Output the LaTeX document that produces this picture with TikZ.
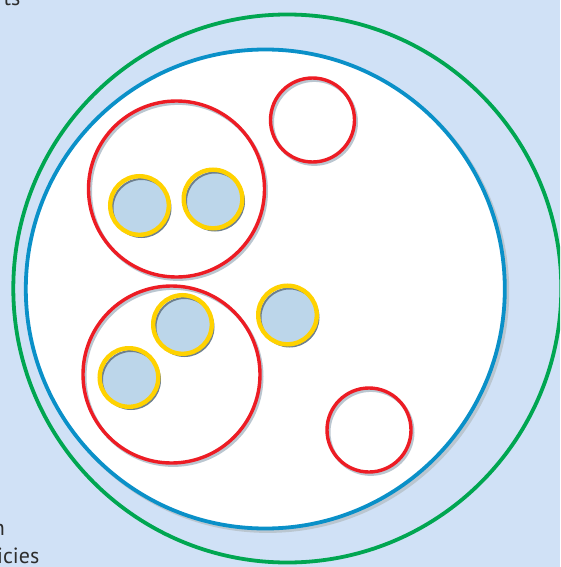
\documentclass[tikz,border=0pt]{standalone}
\usepackage{fontspec}
\setmainfont{PT Sans}
\definecolor{bgblue}{RGB}{208,225,246}
\definecolor{ringgreen}{RGB}{0,166,81}
\definecolor{ringblue}{RGB}{10,144,200}
\definecolor{ringred}{RGB}{237,28,36}
\definecolor{ringyellow}{RGB}{255,210,0}
\definecolor{diskblue}{RGB}{188,214,234}
\definecolor{shadowgrey}{RGB}{186,198,208}
\definecolor{diskedge}{RGB}{110,128,142}
\definecolor{txtgrey}{RGB}{45,45,45}
\tikzset{
  greenring/.style={draw=ringgreen,line width=3.8pt},
  bluering/.style={draw=ringblue,line width=3.8pt,fill=white},
  redring/.style={draw=ringred,line width=3.4pt},
  greyshadow/.style={draw=shadowgrey,line width=3.4pt},
  yellowring/.style={draw=ringyellow,line width=4.4pt},
  disk/.style={fill=diskblue,draw=diskedge,line width=2pt},
  frag/.style={font=\fontsize{22}{26}\selectfont,text=txtgrey,inner sep=0pt}
}
\begin{document}
\begin{tikzpicture}[x=1pt,y=-1pt]
\useasboundingbox (0,0) rectangle (560,567);
\clip (0,0) rectangle (560,567);
\fill[bgblue] (0,0) rectangle (560,567);
% text fragments
\node[frag,anchor=base east] (t1) at (20.5,6) {ts};
\node[frag,anchor=base east] (t2) at (5,535) {n};
\node[frag,anchor=base east] (t3) at (39.5,563) {icies};
% outer green ring
\draw[greenring] (287.3,288.5) circle[radius=274pt];
% blue ring with shadow
\draw[draw=shadowgrey,line width=3.8pt] (267.8,291.5) circle[radius=239.5pt];
\draw[bluering] (265.3,289) circle[radius=239.5pt];
% red rings with shadows
\foreach \cx/\cy/\rr in {176.5/189/88, 171.5/374.5/88.5, 312.5/120/42, 369/430/42}{
  \draw[greyshadow] (\cx+1.8,\cy+2.2) circle[radius=\rr pt];
  \draw[redring] (\cx,\cy) circle[radius=\rr pt];
}
% yellow rings
\foreach \cx/\cy in {139.5/205.5, 213/199, 182.5/324.5, 129/377.5, 287.5/315}{
  \draw[disk] (\cx+2,\cy+2.5) circle[radius=29pt];
  \draw[yellowring] (\cx,\cy) circle[radius=29.3pt];
}
\end{tikzpicture}
\end{document}
